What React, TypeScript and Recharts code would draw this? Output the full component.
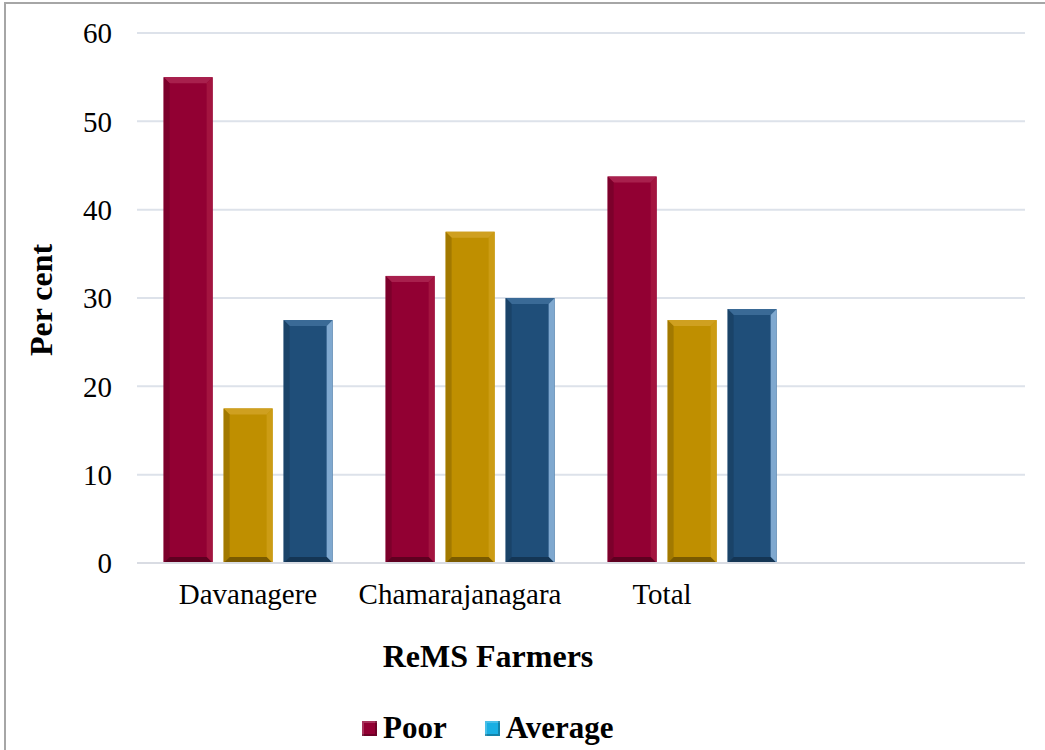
import { BarChart, Bar, XAxis, YAxis, CartesianGrid, Label } from 'recharts';

const districts = ['Davanagere', 'Chamarajanagara', 'Total', ''];
const poor = [55, 32.5, 43.75, null];
const good = [17.5, 37.5, 27.5, null];
const average = [27.5, 30, 28.75, null];
const yTicks = [0, 10, 20, 30, 40, 50, 60];

// horizontal nudge for each category caption
const tickShift = [0, -10, -30, 0];

const data = districts.map((name, i) => ({
  name,
  Poor: poor[i],
  Good: good[i],
  Average: average[i],
}));

const FONT = '"Liberation Serif", "Times New Roman", serif';

type Tone = { base: string; top: string; left: string; right: string; bottom: string };

const TONES: Record<string, Tone> = {
  Poor: { base: '#920033', top: '#A8204D', left: '#7C002B', right: '#A3143F', bottom: '#5E0020' },
  Good: { base: '#BF8F00', top: '#CFA020', left: '#A27900', right: '#CC9C14', bottom: '#7A5A00' },
  Average: { base: '#1F4E79', top: '#3A6A96', left: '#1A4368', right: '#7FA8CF', bottom: '#143554' },
};

const LEGEND = [
  { label: 'Poor', color: '#920033' },
  { label: 'Average', color: '#1AAFE3' },
];

// flat bar with a bevelled frame
const bevelBar = (tone: Tone) => (props: any) => {
  const { x, y, width, height } = props;
  if (!height || height <= 0) return <g />;
  const b = Math.min(6, width / 2, height / 2);
  const r = x + width;
  const btm = y + height;
  return (
    <g>
      <rect x={x} y={y} width={width} height={height} fill={tone.base} />
      <polygon points={`${x},${y} ${r},${y} ${r - b},${y + b} ${x + b},${y + b}`} fill={tone.top} />
      <polygon points={`${x},${y} ${x + b},${y + b} ${x + b},${btm - b} ${x},${btm}`} fill={tone.left} />
      <polygon points={`${r},${y} ${r},${btm} ${r - b},${btm - b} ${r - b},${y + b}`} fill={tone.right} />
      <polygon points={`${x},${btm} ${x + b},${btm - b} ${r - b},${btm - b} ${r},${btm}`} fill={tone.bottom} />
    </g>
  );
};

const CategoryTick = (props: any) => {
  const { x, y, payload, index } = props;
  return (
    <text
      x={x + (tickShift[index] || 0)}
      y={y}
      dy="0.71em"
      textAnchor="middle"
      fontFamily={FONT}
      fontSize={29}
      fill="#000"
    >
      {payload.value}
    </text>
  );
};

const App = () => {
  return (
    <div
      style={{
        position: 'absolute',
        left: 0,
        top: 0,
        width: 1045,
        height: 750,
        background: '#fff',
        overflow: 'hidden',
      }}
    >
      <div
        style={{
          position: 'absolute',
          left: 4,
          top: 2,
          right: 0,
          bottom: 0,
          borderLeft: '2px solid #A6A6A6',
          borderTop: '2px solid #A6A6A6',
        }}
      />
      <BarChart
        width={1045}
        height={750}
        data={data}
        margin={{ top: 33, right: 20, left: 0, bottom: 100 }}
        barCategoryGap="12%"
        barGap={11}
      >
        <CartesianGrid vertical={false} stroke="#DDE2EA" strokeWidth={2} />
        <XAxis
          dataKey="name"
          height={87}
          tickLine={false}
          tickSize={0}
          tickMargin={20}
          axisLine={{ stroke: '#D9DCE3', strokeWidth: 2 }}
          tick={<CategoryTick />}
          interval={0}
        >
          <Label
            content={() => (
              <text
                x={488}
                y={667}
                textAnchor="middle"
                fontFamily={FONT}
                fontSize={32}
                fontWeight="bold"
                fill="#000"
              >
                ReMS Farmers
              </text>
            )}
          />
        </XAxis>
        <YAxis
          width={137}
          domain={[0, 60]}
          ticks={yTicks}
          axisLine={false}
          tickLine={false}
          tickSize={0}
          tickMargin={25}
          tick={{ fontFamily: FONT, fontSize: 29, fill: '#000' }}
        >
          <Label
            content={() => (
              <text
                x={52}
                y={300}
                transform="rotate(-90 52 300)"
                textAnchor="middle"
                fontFamily={FONT}
                fontSize={32}
                fontWeight="bold"
                fill="#000"
              >
                Per cent
              </text>
            )}
          />
        </YAxis>
        <Bar dataKey="Poor" isAnimationActive={false} shape={bevelBar(TONES.Poor)} />
        <Bar dataKey="Good" isAnimationActive={false} shape={bevelBar(TONES.Good)} />
        <Bar dataKey="Average" isAnimationActive={false} shape={bevelBar(TONES.Average)} />
      </BarChart>
      <div
        style={{
          position: 'absolute',
          left: 362,
          top: 710,
          display: 'flex',
          alignItems: 'center',
          fontFamily: FONT,
          fontSize: 31,
          fontWeight: 'bold',
          color: '#000',
        }}
      >
        {LEGEND.map((item, i) => (
          <div
            key={item.label}
            style={{ display: 'flex', alignItems: 'center', marginRight: i === 0 ? 38 : 0 }}
          >
            <span
              style={{
                width: 15,
                height: 15,
                background: item.color,
                boxShadow: 'inset -2px -2px 0 rgba(0,0,0,0.25), inset 2px 2px 0 rgba(255,255,255,0.2)',
                marginRight: 6,
                display: 'inline-block',
              }}
            />
            <span>{item.label}</span>
          </div>
        ))}
      </div>
    </div>
  );
};

export default App;
